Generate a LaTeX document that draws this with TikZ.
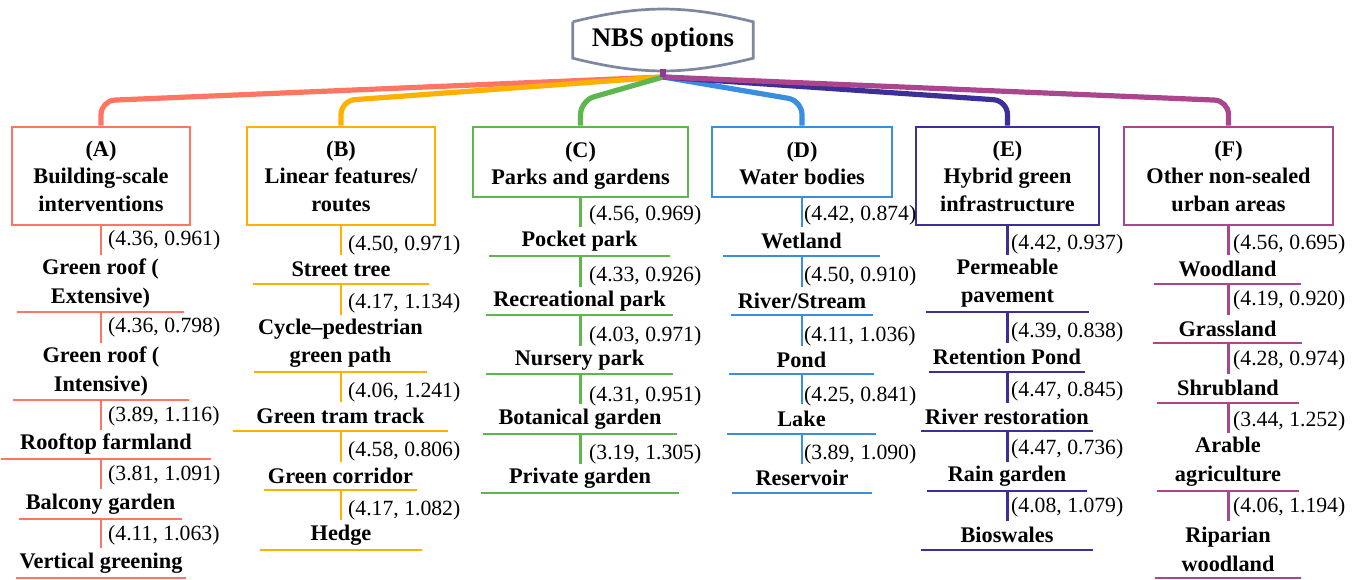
\documentclass[tikz,border=0pt]{standalone}
\usepackage{fontspec}
\setmainfont{Liberation Serif}
\definecolor{cA}{HTML}{FF7563}
\definecolor{cB}{HTML}{FFB000}
\definecolor{cC}{HTML}{5CB84C}
\definecolor{cD}{HTML}{3A8EE0}
\definecolor{cE}{HTML}{3C2F97}
\definecolor{cF}{HTML}{A9468E}
\definecolor{rootline}{HTML}{7D879E}
\definecolor{stubpurple}{HTML}{8D3B8C}
\tikzset{
  root/.style={inner sep=0pt, minimum width=180, minimum height=36, font=\bfseries\fontsize{26.8}{30}\selectfont},
  category/.style={draw=#1, line width=2.7pt, inner sep=0pt, align=center, font=\bfseries\fontsize{22.3}{27.5}\selectfont},
  leaf/.style={inner sep=0pt, align=center, anchor=south, font=\bfseries\fontsize{22.3}{28.5}\selectfont},
  score/.style={inner sep=0pt, anchor=west, font=\fontsize{21.7}{26}\selectfont},
  branch/.style={draw=#1, line width=5.2pt, rounded corners=14pt},
  twig/.style={draw=#1, line width=2.8pt},
}
% #1 category, #2 x of the scores, #3 name/top/underline/left/right/score y/score/text
\newcommand{\nbscolumn}[3]{%
  \foreach \nm/\ytop/\ybot/\xl/\xr/\yv/\val/\txt [remember=\nm as \prev (initially #1)] in {#3}{
    \node[leaf, minimum width={(\xr-\xl)*1pt}, minimum height={(\ybot-\ytop)*1pt}] (\nm) at ({(\xl+\xr)/2},\ybot) {\txt};
    \draw[twig=c#1] (\nm.south west) -- (\nm.south east);
    \draw[twig=c#1] (#1.south |- \prev.south) -- (#1.south |- \nm.north);
    \node[score] (v\nm) at (#2,\yv) {\val};
  }}
\begin{document}
\begin{tikzpicture}[x=1pt,y=-1pt]
\useasboundingbox (0,0) rectangle (1362,579);
\node[root] (nbs) at (663,40) {NBS options};
\coordinate (hub) at (663,77);
\draw[draw=rootline, line width=2.7pt] (nbs.north west) -- (nbs.south west) to[bend right=14] (nbs.south east) -- (nbs.north east) to[bend right=14] (nbs.north west);

\node[category=cA, minimum width=178, minimum height=98] (A) at (101,176) {(A)\\Building-scale\\interventions};
\node[category=cB, minimum width=188, minimum height=98] (B) at (341,176) {(B)\\Linear features/\\routes};
\node[category=cC, minimum width=215, minimum height=70] (C) at (580.5,162) {\rule{0pt}{23pt}(C)\\Parks and gardens};
\node[category=cD, minimum width=180, minimum height=70] (D) at (802,162) {\rule{0pt}{23pt}(D)\\Water bodies\rule[-4.7pt]{0pt}{0pt}};
\node[category=cE, minimum width=183, minimum height=98] (E) at (1007.5,176) {(E)\\Hybrid green\\infrastructure};
\node[category=cF, minimum width=209, minimum height=98] (F) at (1228.5,176) {(F)\\Other non-sealed\\urban areas};

\foreach \g in {A,B,C,D,E,F}
  \draw[branch=c\g] (hub) -- ([yshift=25pt]\g.north) -- (\g.north);
\draw[draw=stubpurple, line width=5.5pt] (hub) -- ([yshift=-11pt]nbs.south);

\nbscolumn{A}{108}{a1/255/312/17/184/240/{(4.36, 0.961)}/{Green roof (\\Extensive)},
  a2/343/400/13/189/327/{(4.36, 0.798)}/{Green roof (\\Intensive)},
  a3/430/459/1/211/416/{(3.89, 1.116)}/{Rooftop farmland},
  a4/489/519/19/182/475/{(3.81, 1.091)}/{Balcony garden},
  a5/548/578/16/186/535/{(4.11, 1.063)}/{Vertical greening}}
\nbscolumn{B}{348}{b1/255/284/253/429/245/{(4.50, 0.971)}/{Street tree},
  b2/315/372/254/427/303/{(4.17, 1.134)}/{Cycle–pedestrian\\green path},
  b3/402/431/233/448/392/{(4.06, 1.241)}/{Green tram track},
  b4/462/490/264/417/451/{(4.58, 0.806)}/{Green corridor},
  b5/520/550/260/422/510/{(4.17, 1.082)}/{Hedge}}
\nbscolumn{C}{589}{c1/227/256/489/670/215/{(4.56, 0.969)}/{Pocket park},
  c2/287/315/486/673/276/{(4.33, 0.926)}/{Recreational park},
  c3/346/374/486/673/336/{(4.03, 0.971)}/{Nursery park},
  c4/404/434/483/677/396/{(4.31, 0.951)}/{Botanical garden},
  c5/464/493/481/679/454/{(3.19, 1.305)}/{Private garden}}
\nbscolumn{D}{804}{d1/227/256/723/880/215/{(4.42, 0.874)}/{Wetland},
  d2/287/315/731/873/276/{(4.50, 0.910)}/{River/Stream},
  d3/346/374/729/874/336/{(4.11, 1.036)}/{Pond},
  d4/404/434/727/876/396/{(4.25, 0.841)}/{Lake},
  d5/464/493/732/872/454/{(3.89, 1.090)}/{Reservoir}}
\nbscolumn{E}{1011}{e1/255/312/926/1089/244/{(4.42, 0.937)}/{Permeable\\pavement},
  e2/343/372/929/1085/332/{(4.39, 0.838)}/{Retention Pond},
  e3/403/431/921/1093/391/{(4.47, 0.845)}/{River restoration},
  e4/462/491/927/1087/449/{(4.47, 0.736)}/{Rain garden},
  e5/521/550/921/1093/507/{(4.08, 1.079)}/{Bioswales}}
\nbscolumn{F}{1233}{f1/255/284/1154/1301/244/{(4.56, 0.695)}/{Woodland},
  f2/315/343/1153/1302/300/{(4.19, 0.920)}/{Grassland},
  f3/374/403/1157/1299/360/{(4.28, 0.974)}/{Shrubland},
  f4/433/491/1157/1299/421/{(3.44, 1.252)}/{Arable\\agriculture},
  f5/521/578/1155/1301/507/{(4.06, 1.194)}/{Riparian\\woodland}}
\end{tikzpicture}
\end{document}
